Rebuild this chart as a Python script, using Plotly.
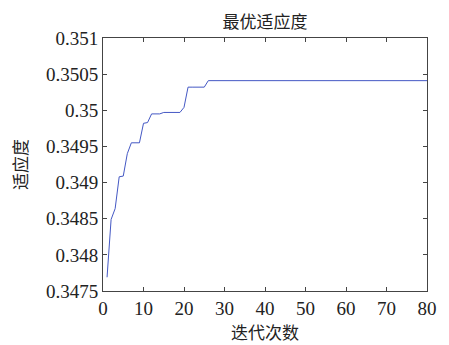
import plotly.graph_objects as go

iterations = list(range(1, 81))
fitness_head = [0.34769, 0.34849, 0.34864, 0.34908, 0.34909, 0.34940, 0.34955, 0.34955, 0.34955,
                0.34982, 0.34983, 0.34995, 0.34995, 0.34995, 0.34997, 0.34997, 0.34997, 0.34997,
                0.34997, 0.35004, 0.35032, 0.35032, 0.35032, 0.35032, 0.35032]
fitness_tail_value = 0.35041
fitness = fitness_head + [fitness_tail_value] * (80 - len(fitness_head))

x_ticks = [0, 10, 20, 30, 40, 50, 60, 70, 80]
y_ticks = [0.3475, 0.348, 0.3485, 0.349, 0.3495, 0.35, 0.3505, 0.351]
y_tick_text = ["0.3475", "0.348", "0.3485", "0.349", "0.3495", "0.35", "0.3505", "0.351"]

fig = go.Figure(go.Scatter(x=iterations, y=fitness, mode="lines",
                           line=dict(color="#4458c4", width=1)))

serif = "Times New Roman, Liberation Serif, DejaVu Serif, serif"
cjk = "Noto Sans CJK SC"

fig.update_layout(
    width=449, height=345,
    margin=dict(l=103, r=13, t=38, b=48),
    paper_bgcolor="white", plot_bgcolor="white",
    showlegend=False,
    font=dict(family=serif),
    title=dict(text="最优适应度", x=0.5, xref="paper", xanchor="center",
               y=1, yref="paper", yanchor="bottom", pad=dict(b=10),
               font=dict(family=cjk, size=17, color="#222")),
    xaxis=dict(range=[0, 80], tickvals=x_ticks, ticks="inside", ticklen=4,
               tickcolor="#444", showline=True, linecolor="#444", linewidth=1,
               mirror="ticks", showgrid=False, zeroline=False,
               tickfont=dict(family=serif, size=19, color="#222"),
               title=dict(text="迭代次数", font=dict(family=cjk, size=17, color="#222"), standoff=2)),
    yaxis=dict(range=[0.3475, 0.351], tickvals=y_ticks, ticktext=y_tick_text,
               ticks="inside", ticklen=4, tickcolor="#444", showline=True,
               linecolor="#444", linewidth=1, mirror="ticks", showgrid=False,
               zeroline=False,
               tickfont=dict(family=serif, size=19, color="#222"),
               title=dict(text="适应度", font=dict(family=cjk, size=17, color="#222"), standoff=14)),
)

fig.write_html("out.html")
